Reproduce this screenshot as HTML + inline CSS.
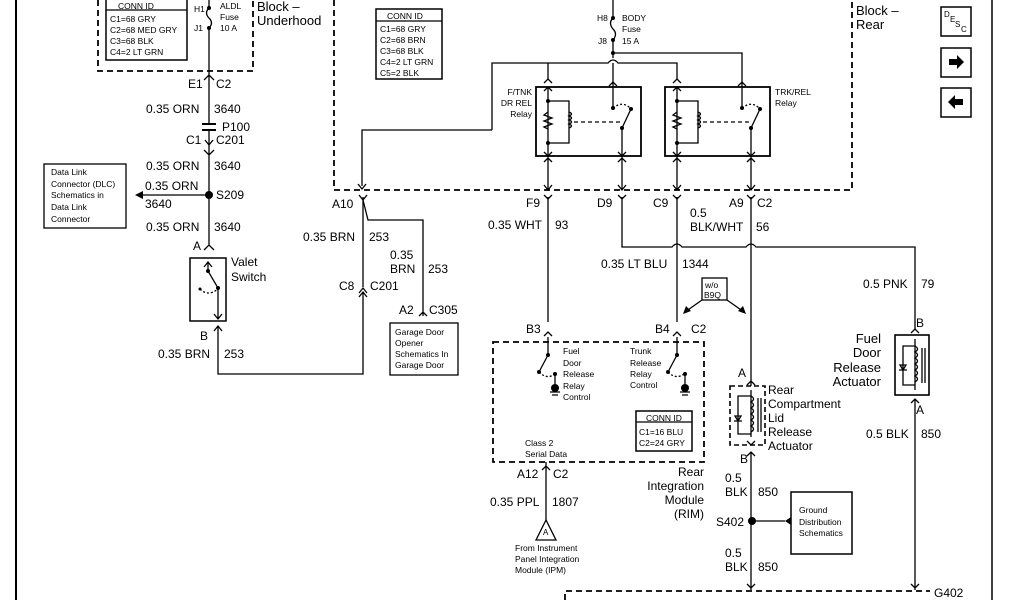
<!DOCTYPE html>
<html><head><meta charset="utf-8"><style>
html,body{margin:0;padding:0;background:#fff;}
svg{display:block;}
text{font-family:"Liberation Sans",sans-serif;fill:#000;}
.m{font-size:12px;}
.s{font-size:8.5px;}
.l{font-size:13px;}
</style></head><body>
<svg width="1024" height="600" viewBox="0 0 1024 600" xmlns="http://www.w3.org/2000/svg">
<g stroke="#000" stroke-width="1.3" fill="none">
<line x1="16" y1="0" x2="16" y2="600" stroke-width="2"/>
<line x1="992" y1="0" x2="992" y2="600" stroke-width="1.5"/>
<path d="M98 0 V71 H253 V0" stroke-dasharray="6,4" stroke-width="1.8"/>
<rect x="106" y="-2" width="81" height="62" stroke-width="1.5"/>
<line x1="106" y1="10" x2="187" y2="10"/>
<path d="M209 0 V8 M209 28 V71"/>
<path d="M209 8 q-5 5 0 10 q5 5 0 10"/>
<path d="M334 0 V190 H852 V0" stroke-dasharray="6,4" stroke-width="1.8"/>
<path d="M209 71 V124 M209 130 V245 M204 80 l5 -5 l5 5 M204 150 l5 5 l5 -5 M204 250 l5 -5 l5 5"/>
<path d="M202 124 h14 M202 130 h14" stroke-width="2"/>
<path d="M205 140 l4 5 l4 -5"/>
<line x1="209" y1="195" x2="140" y2="195"/>
<rect x="44" y="164" width="82" height="64"/>
<rect x="190" y="258" width="36" height="63" stroke-width="1.5"/>
<path d="M208 262 V271 L218 288 V319 M204 267 l4 -5 l4 5 M214 314 l4 5 l4 -5"/>
<path d="M200 289 q8 8 18 0" stroke-dasharray="2,2"/>
<path d="M214 331 l4 -5 l4 5 M218 327 V374 H363 V292 M359 293 l4 -5 l4 5 M359 297 l4 -5 l4 5 M363 287 V197 M359 195 l4 5 l4 -5"/>
<path d="M363 200 L368 220 H423 V316 M419 316 l4 -4 l4 4"/>
<rect x="390" y="323" width="68" height="52"/>
<rect x="376" y="9" width="66" height="70" stroke-width="1.5"/>
<line x1="376" y1="21" x2="442" y2="21"/>
<path d="M613 0 V18 M613 40 V58 M613 53 H742 V80"/>
<path d="M613 18 q-5 5 0 11 q5 5 0 11"/>
<path d="M492 130 V63 H608 q5 -6 10 0 H677 V80 M548 63 V80 M613 63 V80"/>
<path d="M492 130 H362 V186 M358 184 l4 5 l4 -5"/>
<rect x="536" y="87" width="105" height="69" stroke-width="1.8"/>
<rect x="665" y="87" width="105" height="69" stroke-width="1.8"/>
<g id="relayL">
<path d="M544 83 l4 -4 l4 4 M544 91 l4 -4 l4 4 M548 87 V156 M548 101 H569 V143 H548"/>
<path d="M548 112 l-4 3 l8 3 l-8 3 l8 3 l-8 3 l4 2"/>
<path d="M569 112 q5 2 0 4 q5 2 0 4 q5 2 0 4 q5 2 0 4"/>
<path d="M574 122 H620" stroke-dasharray="4,3"/>
<path d="M613 80 V108 M609 86 l4 -4 l4 4 M622 155 V128 L631 109"/>
<path d="M613 108 q10 -8 18 1" stroke-dasharray="2,2"/>
<path d="M544 152 l4 4 l4 -4 M618 152 l4 4 l4 -4"/>
<path d="M548 156 V190 M622 156 V190 M544 162 l4 -4 l4 4 M618 162 l4 -4 l4 4 M544 185 l4 5 l4 -5 M618 185 l4 5 l4 -5"/>
</g>
<use href="#relayL" x="129"/>
<path d="M548 197 V322 M622 197 V247 H672 q5 -6 10 0 H746 q5 -6 10 0 H915 V330"/>
<path d="M677 197 V322 M751 197 V381"/>
<path d="M544 195 l4 4 l4 -4 M618 195 l4 4 l4 -4 M673 195 l4 4 l4 -4 M747 195 l4 4 l4 -4"/>
<path d="M544 336 l4 -4 l4 4 M673 336 l4 -4 l4 4"/>
<rect x="702" y="278" width="25" height="22"/>
<path d="M702 300 L685 312 M727 300 L744 312"/>
<rect x="493" y="342" width="211" height="120" stroke-dasharray="6,4" stroke-width="1.8"/>
<path d="M548 337 V355 L539 372 M677 337 V355 L668 372 M555 374 V388 M685 374 V388"/>
<path d="M539 372 q8 8 16 2 M668 372 q8 8 16 2" stroke-dasharray="2,2"/>
<path d="M550 392 h10 M552 395 h6 M680 392 h10 M682 395 h6"/>
<rect x="636" y="411" width="56" height="40" stroke-width="1.5"/>
<line x1="636" y1="422" x2="692" y2="422"/>
<path d="M546 462 V520 M542 470 l4 -4 l4 4"/>
<path d="M546 520 L536 540 H556 Z"/>
<path d="M747 385 l4 -4 l4 4 M751 381 V386"/>
<rect x="730" y="386" width="35" height="59" stroke-dasharray="5,3" stroke-width="1.6"/>
<path d="M751 390 V437 M751 396 H738 V434 H751"/>
<path d="M751 396 q5 3 0 6 q5 3 0 6 q5 3 0 6 q5 3 0 6 q5 3 0 6 q5 3 0 6"/>
<path d="M758 398 V432 M761 398 V432"/>
<path d="M734 421 h8 M738 421 l-3 -5 h6 z"/>
<path d="M747 441 l4 4 l4 -4 M747 456 l4 -4 l4 4 M751 452 V590"/>
<path d="M752 521 H785"/>
<rect x="791" y="492" width="61" height="62" stroke-width="1.5"/>
<path d="M911 333 l4 -4 l4 4"/>
<rect x="895" y="335" width="34" height="60" stroke-width="1.6"/>
<path d="M915 339 V390 M915 346 H903 V385 H915"/>
<path d="M915 346 q5 3 0 6 q5 3 0 6 q5 3 0 6 q5 3 0 6 q5 3 0 6 q5 3 0 6"/>
<path d="M922 348 V383 M925 348 V383"/>
<path d="M899 370 h8 M903 370 l-3 -5 h6 z"/>
<path d="M911 403 l4 -4 l4 4 M915 399 V590 M911 584 l4 4 l4 -4 M747 584 l4 4 l4 -4"/>
<path d="M565 600 V591 H930" stroke-dasharray="6,4" stroke-width="1.8"/>
<rect x="941" y="7" width="30" height="29" stroke-width="1.5"/>
<rect x="941" y="48" width="30" height="29" stroke-width="1.5"/>
<rect x="941" y="88" width="30" height="29" stroke-width="1.5"/>
</g>
<g fill="#000" stroke="none">
<circle cx="209" cy="195" r="4"/>
<path d="M135 195 l8 -4 v8 z"/>
<circle cx="209" cy="8" r="2"/><circle cx="209" cy="28" r="2"/>
<circle cx="613" cy="18" r="2"/><circle cx="613" cy="40" r="2"/><circle cx="613" cy="53" r="2"/>
<circle cx="548" cy="101" r="2"/><circle cx="548" cy="143" r="2"/><circle cx="613" cy="108" r="2"/><circle cx="631" cy="109" r="2"/><circle cx="622" cy="128" r="2"/>
<circle cx="677" cy="101" r="2"/><circle cx="677" cy="143" r="2"/><circle cx="742" cy="108" r="2"/><circle cx="760" cy="109" r="2"/><circle cx="751" cy="128" r="2"/>
<circle cx="208" cy="271" r="2"/><circle cx="218" cy="288" r="2"/><circle cx="200" cy="289" r="1.5"/>
<circle cx="548" cy="355" r="2"/><circle cx="539" cy="372" r="2"/><circle cx="555" cy="374" r="2"/><circle cx="555" cy="388" r="4"/>
<circle cx="677" cy="355" r="2"/><circle cx="668" cy="372" r="2"/><circle cx="685" cy="374" r="2"/><circle cx="685" cy="388" r="4"/>
<circle cx="752" cy="521" r="4"/>
<path d="M785 521 l6 -4 v8 z"/>
<path d="M683 314 l3 -8 l5 5 z M746 314 l-8 -3 l5 -5 z"/>
<path d="M949 59 h8 v-4 l7 7 l-7 7 v-4 h-8 z"/>
<path d="M963 99 h-8 v-4 l-7 7 l7 7 v-4 h8 z"/>
</g>
<g class="s">
<text x="118" y="9">CONN ID</text>
<text x="110" y="22">C1=68 GRY</text><text x="110" y="33">C2=68 MED GRY</text><text x="110" y="44">C3=68 BLK</text><text x="110" y="55">C4=2 LT GRN</text>
<text x="194" y="12">H1</text><text x="194" y="31">J1</text>
<text x="220" y="9">ALDL</text><text x="220" y="20">Fuse</text><text x="220" y="31">10 A</text>
<text x="387" y="19">CONN ID</text>
<text x="380" y="32">C1=68 GRY</text><text x="380" y="43">C2=68 BRN</text><text x="380" y="54">C3=68 BLK</text><text x="380" y="65">C4=2 LT GRN</text><text x="380" y="76">C5=2 BLK</text>
<text x="51" y="175">Data Link</text><text x="51" y="187">Connector (DLC)</text><text x="51" y="198">Schematics in</text><text x="51" y="210">Data Link</text><text x="51" y="222">Connector</text>
<text x="395" y="335">Garage Door</text><text x="395" y="346">Opener</text><text x="395" y="357">Schematics In</text><text x="395" y="368">Garage Door</text>
<text x="597" y="21">H8</text><text x="598" y="44">J8</text>
<text x="622" y="21">BODY</text><text x="622" y="32">Fuse</text><text x="622" y="44">15 A</text>
<text x="532" y="95" text-anchor="end">F/TNK</text><text x="532" y="106" text-anchor="end">DR REL</text><text x="532" y="117" text-anchor="end">Relay</text>
<text x="775" y="95">TRK/REL</text><text x="775" y="106">Relay</text>
<text x="705" y="288">w/o</text><text x="704" y="298">B9Q</text>
<text x="563" y="354">Fuel</text><text x="563" y="366">Door</text><text x="563" y="377">Release</text><text x="563" y="389">Relay</text><text x="563" y="400">Control</text>
<text x="630" y="354">Trunk</text><text x="630" y="366">Release</text><text x="630" y="377">Relay</text><text x="630" y="388">Control</text>
<text x="646" y="421">CONN ID</text><text x="639" y="435">C1=16 BLU</text><text x="639" y="446">C2=24 GRY</text>
<text x="525" y="446">Class 2</text><text x="525" y="457">Serial Data</text>
<text x="515" y="551">From Instrument</text><text x="515" y="562">Panel Integration</text><text x="515" y="573">Module (IPM)</text>
<text x="799" y="513">Ground</text><text x="799" y="525">Distribution</text><text x="799" y="536">Schematics</text>
<text x="543" y="535" font-size="8">A</text>
</g>
<g class="m">
<text x="257" y="11" class="l">Block –</text><text x="257" y="25" class="l">Underhood</text>
<text x="856" y="15" class="l">Block –</text><text x="856" y="29" class="l">Rear</text>
<text x="188" y="88">E1</text><text x="216" y="88">C2</text>
<text x="146" y="113">0.35 ORN</text><text x="214" y="113">3640</text>
<text x="222" y="131">P100</text>
<text x="186" y="144">C1</text><text x="216" y="144">C201</text>
<text x="146" y="170">0.35 ORN</text><text x="214" y="170">3640</text>
<text x="145" y="190">0.35 ORN</text><text x="216" y="199">S209</text><text x="145" y="208">3640</text>
<text x="146" y="231">0.35 ORN</text><text x="214" y="231">3640</text>
<text x="193" y="250">A</text>
<text x="231" y="266">Valet</text><text x="231" y="281">Switch</text>
<text x="200" y="340">B</text>
<text x="158" y="358">0.35 BRN</text><text x="224" y="358">253</text>
<text x="332" y="208">A10</text>
<text x="303" y="241">0.35 BRN</text><text x="369" y="241">253</text>
<text x="390" y="259">0.35</text><text x="390" y="273">BRN</text><text x="428" y="273">253</text>
<text x="339" y="290">C8</text><text x="370" y="290">C201</text>
<text x="399" y="314">A2</text><text x="429" y="314">C305</text>
<text x="526" y="207">F9</text><text x="597" y="207">D9</text><text x="653" y="207">C9</text><text x="729" y="207">A9</text><text x="757" y="207">C2</text>
<text x="488" y="229">0.35 WHT</text><text x="555" y="229">93</text>
<text x="690" y="217">0.5</text><text x="690" y="231">BLK/WHT</text><text x="756" y="231">56</text>
<text x="601" y="268">0.35 LT BLU</text><text x="682" y="268">1344</text>
<text x="863" y="288">0.5 PNK</text><text x="921" y="288">79</text>
<text x="526" y="333">B3</text><text x="655" y="333">B4</text><text x="691" y="333">C2</text>
<text x="916" y="327">B</text>
<text x="881" y="343" text-anchor="end" class="l">Fuel</text><text x="881" y="357" text-anchor="end" class="l">Door</text><text x="881" y="372" text-anchor="end" class="l">Release</text><text x="881" y="386" text-anchor="end" class="l">Actuator</text>
<text x="916" y="414">A</text>
<text x="866" y="438">0.5 BLK</text><text x="921" y="438">850</text>
<text x="738" y="377">A</text>
<text x="768" y="394">Rear</text><text x="768" y="408">Compartment</text><text x="768" y="422">Lid</text><text x="768" y="436">Release</text><text x="768" y="450">Actuator</text>
<text x="740" y="463">B</text>
<text x="725" y="482">0.5</text><text x="725" y="496">BLK</text><text x="758" y="496">850</text>
<text x="716" y="526">S402</text>
<text x="725" y="557">0.5</text><text x="725" y="571">BLK</text><text x="758" y="571">850</text>
<text x="517" y="478">A12</text><text x="553" y="478">C2</text>
<text x="490" y="506">0.35 PPL</text><text x="552" y="506">1807</text>
<text x="704" y="476" text-anchor="end">Rear</text><text x="704" y="490" text-anchor="end">Integration</text><text x="704" y="504" text-anchor="end">Module</text><text x="704" y="518" text-anchor="end">(RIM)</text>
<text x="934" y="597">G402</text>
</g>
<text x="944" y="17" font-size="8">D</text><text x="950" y="22" font-size="8">E</text><text x="955" y="27" font-size="8">S</text><text x="961" y="32" font-size="8">C</text>
</svg>
</body></html>
